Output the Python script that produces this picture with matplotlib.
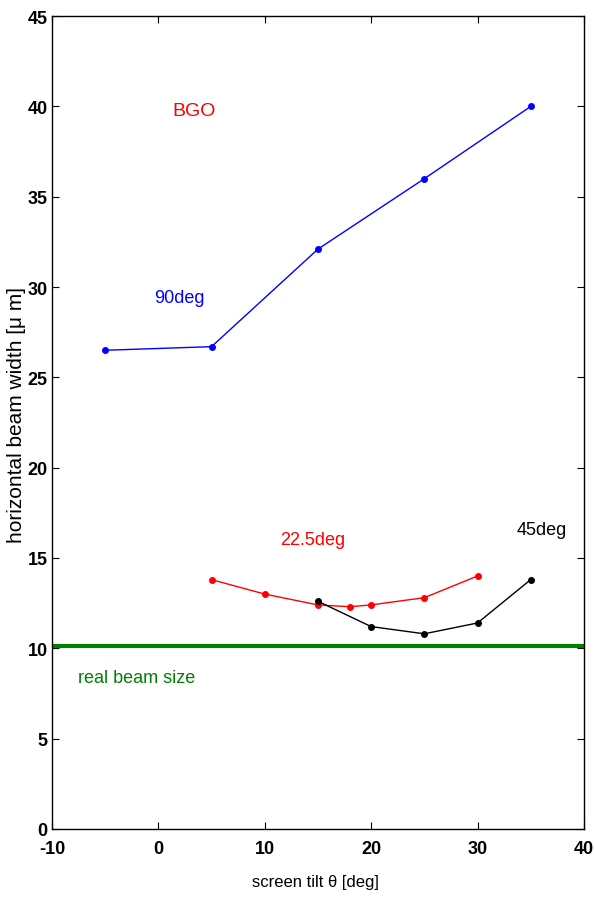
import matplotlib
matplotlib.use("Agg")
import matplotlib.pyplot as plt

plt.rcParams["axes.unicode_minus"] = False
font = ["Liberation Sans", "DejaVu Sans"]

# data
tilt_90 = [-5, 5, 15, 25, 35]
width_90 = [26.5, 26.7, 32.1, 36.0, 40.0]

tilt_225 = [5, 10, 15, 18, 20, 25, 30]
width_225 = [13.8, 13.0, 12.4, 12.3, 12.4, 12.8, 14.0]

tilt_45 = [15, 20, 25, 30, 35]
width_45 = [12.6, 11.2, 10.8, 11.4, 13.8]

real_beam = 10.1

fig = plt.figure(figsize=(5.94, 9.03), dpi=100)
ax = fig.add_axes([0.0875, 0.081, 0.8955, 0.9])

ax.plot(tilt_90, width_90, color="#0000ff", lw=1, marker="o", ms=4)
ax.plot(tilt_225, width_225, color="#ff0000", lw=1, marker="o", ms=4)
ax.plot(tilt_45, width_45, color="black", lw=1, marker="o", ms=4)
ax.axhline(real_beam, color="#008000", lw=3)

ax.text(3.4, 39.8, "BGO", color="#ff0000", fontsize=14, family=font,
        ha="center", va="center")
ax.text(2.0, 29.4, "90deg", color="#0000ff", fontsize=13, family=font,
        ha="center", va="center")
ax.text(14.5, 16.0, "22.5deg", color="#ff0000", fontsize=13, family=font,
        ha="center", va="center")
ax.text(36.0, 16.6, "45deg", color="black", fontsize=13, family=font,
        ha="center", va="center")
ax.text(-2.0, 8.4, "real beam size", color="#008000", fontsize=13,
        family=font, ha="center", va="center")

ax.set_xlim(-10, 40)
ax.set_ylim(0, 45)
ax.set_xticks(range(-10, 41, 10))
ax.set_yticks(range(0, 46, 5))
ax.tick_params(direction="in", top=True, right=True, length=5, width=0.8)
ax.tick_params(axis="y", pad=3)
ax.tick_params(axis="x", pad=8)
for lab in ax.get_xticklabels() + ax.get_yticklabels():
    lab.set_family(font)
    lab.set_fontweight("bold")
    lab.set_fontsize(13)

ax.set_xlabel("screen tilt \u03b8 [deg]", family=font, fontsize=12)
ax.xaxis.set_label_coords(0.496, -0.056)
ax.set_ylabel("horizontal beam width [\u03bc m]", family=font, fontsize=15)
ax.yaxis.set_label_coords(-0.049, 0.51)
for s in ax.spines.values():
    s.set_linewidth(1)

fig.savefig("out.png", dpi=100)
